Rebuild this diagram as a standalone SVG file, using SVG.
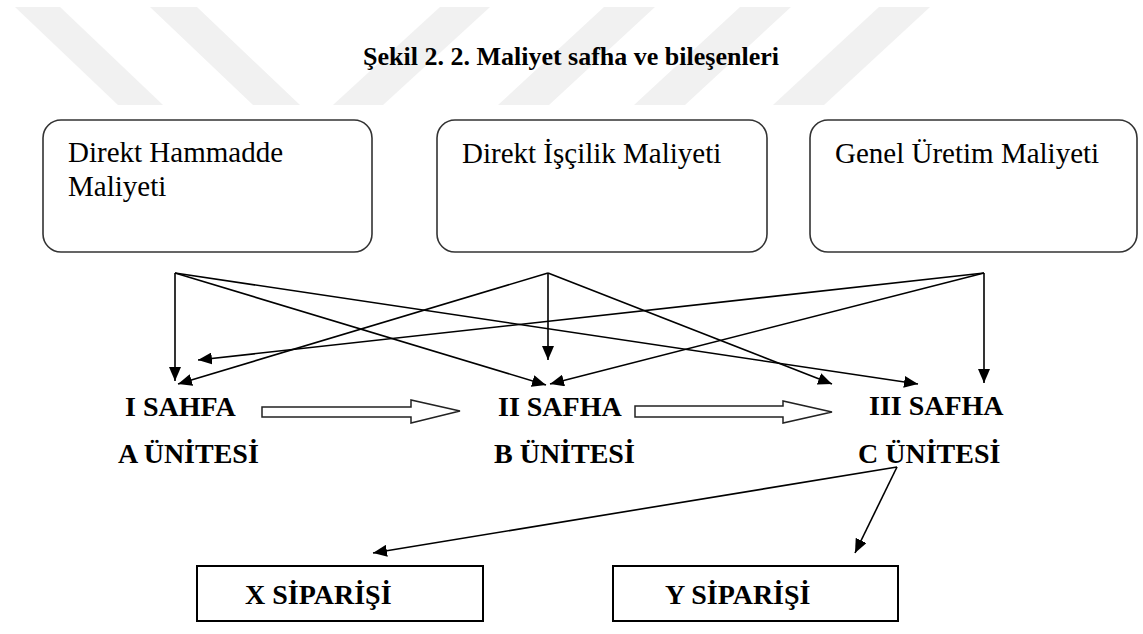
<svg xmlns="http://www.w3.org/2000/svg" width="1143" height="634" viewBox="0 0 1143 634">
<style>
.wm{fill:#f1f1f1}
.rbox{fill:#fff;stroke:#333;stroke-width:1.6}
.sbox{fill:#fff;stroke:#000;stroke-width:2}
.reg{font-family:"Liberation Serif",serif;font-size:29px;fill:#000}
.bold{font-family:"Liberation Serif",serif;font-size:28px;font-weight:bold;fill:#000}
.title{font-family:"Liberation Serif",serif;font-size:26px;font-weight:bold;fill:#000}
.con{stroke:#000;stroke-width:1.6;fill:none;marker-end:url(#ah)}
.blk{fill:#fff;stroke:#222;stroke-width:1.5}
</style>
<defs>
<marker id="ah" markerUnits="userSpaceOnUse" markerWidth="14" markerHeight="12" refX="14" refY="6" orient="auto" viewBox="0 0 14 12">
<path d="M0,0 L14,6 L0,12 z" fill="#000"/>
</marker>
</defs>
<rect width="1143" height="634" fill="#fff"/>
<g id="watermark">
<polygon class="wm" points="15,7 60,7 163,105 118,105"/>
<polygon class="wm" points="150,7 197,7 300,105 253,105"/>
<polygon class="wm" points="440,7 490,7 383,105 333,105"/>
<polygon class="wm" points="604,7 655,7 549,105 498,105"/>
<polygon class="wm" points="740,7 791,7 685,105 634,105"/>
<polygon class="wm" points="879,7 930,7 824,105 773,105"/>
</g>
<text id="title" class="title" x="363" y="65">Şekil 2. 2. Maliyet safha ve bileşenleri</text>
<g id="hammadde">
<rect class="rbox" x="43" y="120" width="329" height="132" rx="18"/>
<text class="reg" x="68" y="162">Direkt Hammadde</text>
<text class="reg" x="68" y="196">Maliyeti</text>
</g>
<g id="iscilik">
<rect class="rbox" x="437" y="120" width="330" height="132" rx="18"/>
<text class="reg" x="462" y="163">Direkt İşçilik Maliyeti</text>
</g>
<g id="genel">
<rect class="rbox" x="810" y="120" width="327" height="132" rx="18"/>
<text class="reg" x="835" y="163">Genel Üretim Maliyeti</text>
</g>
<g id="safha1">
<text class="bold" x="125" y="416">I SAHFA</text>
<text class="bold" x="118" y="463">A ÜNİTESİ</text>
</g>
<g id="safha2">
<text class="bold" x="498" y="416">II SAFHA</text>
<text class="bold" x="494" y="463">B ÜNİTESİ</text>
</g>
<g id="safha3">
<text class="bold" x="869" y="415">III SAFHA</text>
<text class="bold" x="858" y="463">C ÜNİTESİ</text>
</g>
<g id="siparisX">
<rect class="sbox" x="197" y="566" width="286" height="55"/>
<text class="bold" x="245" y="604">X SİPARİŞİ</text>
</g>
<g id="siparisY">
<rect class="sbox" x="613" y="566" width="285" height="55"/>
<text class="bold" x="665" y="604">Y SİPARİŞİ</text>
</g>
<g id="connectors">
<line class="con" x1="175" y1="273" x2="175" y2="381"/>
<line class="con" x1="175" y1="273" x2="546" y2="385"/>
<line class="con" x1="175" y1="273" x2="918" y2="384"/>
<line class="con" x1="548" y1="273" x2="548" y2="360"/>
<line class="con" x1="548" y1="273" x2="178" y2="384"/>
<line class="con" x1="548" y1="273" x2="832" y2="384"/>
<line class="con" x1="984" y1="273" x2="984" y2="383"/>
<line class="con" x1="984" y1="273" x2="198" y2="360"/>
<line class="con" x1="984" y1="273" x2="550" y2="384"/>
<line class="con" x1="897" y1="467" x2="373" y2="553"/>
<line class="con" x1="897" y1="467" x2="855" y2="553"/>
<polygon class="blk" points="262,407 411,407 411,400 460,411 411,423 411,417 262,417"/>
<polygon class="blk" points="635,406 783,406 783,401 832,412 783,423 783,417 635,417"/>
</g>
</svg>
